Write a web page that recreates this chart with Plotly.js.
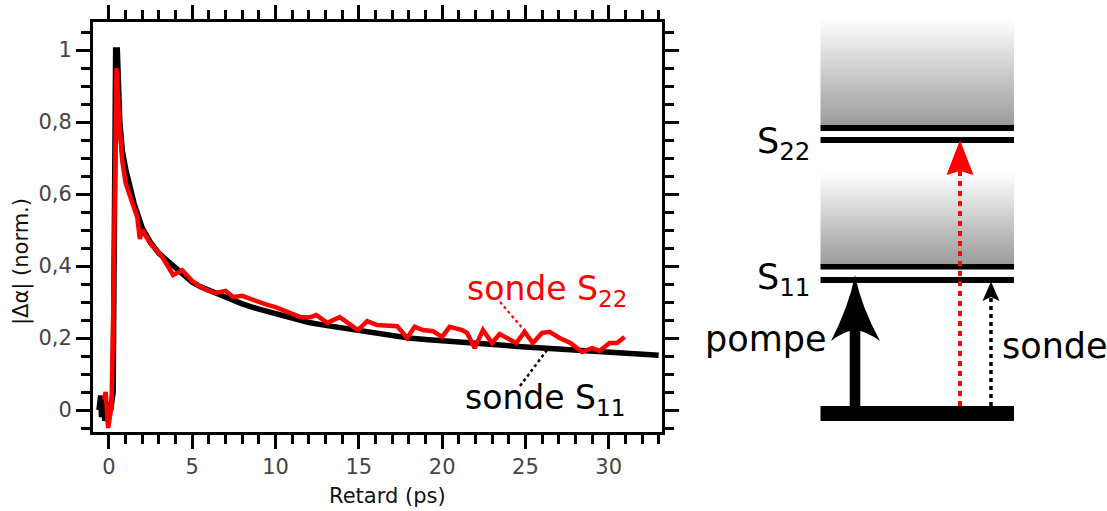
<!DOCTYPE html>
<html>
<head>
<meta charset="utf-8">
<script src="https://cdn.plot.ly/plotly-3.0.1.min.js"></script>
<style>html,body{margin:0;padding:0;background:#fff;}#chart{width:1107px;height:511px;}</style>
</head>
<body>
<div id="chart"></div>
<script>
// ---- data ----
const tS11 = [-0.6,-0.5,-0.45,-0.35,-0.25,-0.1,0.1,0.25,0.4,0.5,0.65,0.8,1.0,1.2,1.5,2.0,2.5,3.0,3.5,4.0,4.5,5.0,5.5,6.0,6.5,7,7.5,8,9,10,11,12,13,14,15,16,17,18,19,20,21,22,23,24,25,26,27,28,29,30,31,32,33];
const vS11 = [0.0,0.04,-0.02,0.03,-0.03,0.02,0.0,0.05,1.0,1.0,0.8,0.72,0.67,0.625,0.575,0.505,0.465,0.435,0.415,0.39,0.37,0.355,0.342,0.332,0.322,0.312,0.303,0.295,0.28,0.267,0.254,0.243,0.235,0.228,0.22,0.212,0.205,0.2,0.196,0.192,0.188,0.184,0.181,0.178,0.175,0.172,0.169,0.167,0.164,0.161,0.158,0.153,0.152];

const tS22 = [-0.3,-0.2,-0.05,0.15,0.25,0.45,0.65,0.8,1.0,1.25,1.55,1.7,1.85,2.0,2.45,2.8,3.2,3.85,4.4,5.0,5.5,5.9,6.4,7.0,7.45,8.0,8.6,9.5,10.0,10.7,11.5,12.1,12.45,13.1,13.85,14.95,15.5,16.1,17.3,17.9,18.35,18.85,19.45,20.0,20.45,21.2,21.5,21.95,22.45,23.0,23.45,24.45,24.95,25.45,26.0,26.45,27.05,27.7,28.4,29.0,29.45,30.05,30.5,30.95];
const vS22 = [0.03,0.05,-0.05,0.01,0.25,0.95,0.78,0.69,0.63,0.595,0.56,0.535,0.475,0.5,0.465,0.445,0.425,0.375,0.388,0.358,0.342,0.333,0.325,0.331,0.314,0.317,0.306,0.292,0.286,0.272,0.258,0.258,0.264,0.242,0.258,0.222,0.247,0.236,0.233,0.2,0.231,0.222,0.219,0.203,0.231,0.222,0.214,0.172,0.222,0.186,0.211,0.186,0.217,0.186,0.214,0.217,0.2,0.186,0.161,0.172,0.164,0.186,0.186,0.203];

const xTitle = "Retard (ps)";
const yTitle = "|Δα| (norm.)";
const labelS22 = "sonde S<sub>22</sub>";
const labelS11 = "sonde S<sub>11</sub>";
const levelLabels = ["S<sub>22</sub>", "S<sub>11</sub>"];
const pumpLabel = "pompe";
const probeLabel = "sonde";

// ---- helpers: figure pixel -> paper ----
const W = 1107, H = 511;
const X = p => p / W;
const Y = p => 1 - p / H;
const P = (x, y) => X(x).toFixed(5) + ',' + Y(y).toFixed(5);
const FONT = 'DejaVu Sans';

const traces = [
  // diagram gradient bands (pixel axes x2/y2)
  {x:[820.5,1014,1014,820.5,820.5], y:[18,18,126,126,18], xaxis:'x2', yaxis:'y2', type:'scatter', mode:'none',
   fill:'toself', hoverinfo:'skip',
   fillgradient:{type:'vertical', start:18, stop:126, colorscale:[[0,'#ffffff'],[1,'#9a9a9a']]}},
  {x:[820.5,1014,1014,820.5,820.5], y:[172,172,265,265,172], xaxis:'x2', yaxis:'y2', type:'scatter', mode:'none',
   fill:'toself', hoverinfo:'skip',
   fillgradient:{type:'vertical', start:172, stop:265, colorscale:[[0,'#ffffff'],[1,'#9a9a9a']]}},
  {x:tS11, y:vS11, type:'scatter', mode:'lines', line:{color:'#000000', width:5.5}, name:'sonde S11'},
  {x:tS22, y:vS22, type:'scatter', mode:'lines', line:{color:'#ff0000', width:4.5}, name:'sonde S22'}
];

function rectPx(x0,y0,x1,y1,color){
  return {type:'rect', xref:'paper', yref:'paper', x0:X(x0), x1:X(x1), y0:Y(y0), y1:Y(y1),
          fillcolor:color, line:{width:0}};
}
function linePx(x0,y0,x1,y1,color,width,dash){
  return {type:'line', xref:'paper', yref:'paper', x0:X(x0), x1:X(x1), y0:Y(y0), y1:Y(y1),
          line:{color:color, width:width, dash:dash||'solid'}};
}
function pathPx(d,color){
  return {type:'path', xref:'paper', yref:'paper', path:d, fillcolor:color, line:{width:0}};
}

const shapes = [
  rectPx(820.5,125,1014,131,'#000'),
  rectPx(820.5,137,1014,143,'#000'),
  rectPx(820.5,264,1014,269.5,'#000'),
  rectPx(820.5,277,1014,283,'#000'),
  rectPx(820.5,406,1014,421,'#000'),
  // pump arrow
  rectPx(849.7,328,860.3,407,'#000'),
  pathPx('M'+P(855,275)+' Q'+P(861,306)+' '+P(880,341)+' Q'+P(866,331)+' '+P(855,330)+
         ' Q'+P(844,331)+' '+P(831,341)+' Q'+P(849,306)+' '+P(855,275)+' Z','#000'),
  // red dotted probe (S22)
  linePx(960,406,960,170,'#ff0000',4,'5px,5px'),
  pathPx('M'+P(960,140)+' L'+P(973.5,175)+' L'+P(960,171)+' L'+P(946.5,175)+' Z','#ff0000'),
  // black dotted probe (S11)
  linePx(991,406,991,297,'#000',3.5,'4px,4px'),
  pathPx('M'+P(991,281.5)+' L'+P(999.5,301)+' L'+P(991,297)+' L'+P(982.5,301)+' Z','#000'),
  // leader lines in the plot
  linePx(500,302,524,330,'#ff0000',2.2,'dot'),
  linePx(547,350,520,386,'#000',2.5,'dot')
];

function ann(text,x,y,size,color,xanchor,extra){
  return Object.assign({text:text, xref:'paper', yref:'paper', x:X(x), y:Y(y), showarrow:false,
    xanchor:xanchor, yanchor:'middle', font:{family:FONT, size:size, color:color}}, extra||{});
}

const annotations = [
  ann(xTitle,387,496,21,'#111','center'),
  ann(yTitle,21,262,21,'#111','center',{textangle:-90}),
  ann(labelS22,465,290,33,'#ff0000','left'),
  ann(labelS11,463,399,33,'#000','left'),
  ann(levelLabels[0],812,143,35,'#000','right'),
  ann(levelLabels[1],812,279,35,'#000','right'),
  ann(pumpLabel,703,339,35,'#000','left'),
  ann(probeLabel,1000,346,35,'#000','left')
];

const axisCommon = {
  showline:true, linewidth:3, linecolor:'#000', mirror:'ticks',
  ticks:'outside', ticklen:14, tickwidth:3, tickcolor:'#000',
  showgrid:false, zeroline:false,
  tickfont:{family:FONT, size:21, color:'#444'}
};

const layout = {
  width:W, height:H,
  margin:{l:0,r:0,t:0,b:0,pad:0},
  paper_bgcolor:'#ffffff', plot_bgcolor:'rgba(0,0,0,0)',
  showlegend:false,
  separators:', ',
  font:{family:FONT, size:21, color:'#111'},
  xaxis:Object.assign({}, axisCommon, {domain:[93/W, 662/W], range:[-0.96,33.2], anchor:'y',
    tickmode:'linear', tick0:0, dtick:5,
    minor:{tick0:0, dtick:1, ticks:'outside', ticklen:9, tickwidth:3, tickcolor:'#000', showgrid:false}}),
  yaxis:Object.assign({}, axisCommon, {domain:[(H-432)/H, (H-22)/H], range:[-0.0611,1.0778], anchor:'x',
    tickmode:'linear', tick0:0, dtick:0.2,
    minor:{tick0:0, dtick:0.05, ticks:'outside', ticklen:9, tickwidth:3, tickcolor:'#000', showgrid:false}}),
  xaxis2:{domain:[0,1], range:[0,W], anchor:'y2', visible:false, fixedrange:true},
  yaxis2:{domain:[0,1], range:[H,0], anchor:'x2', visible:false, fixedrange:true},
  shapes:shapes,
  annotations:annotations
};

Plotly.newPlot('chart', traces, layout, {displayModeBar:false});
</script>
</body>
</html>
